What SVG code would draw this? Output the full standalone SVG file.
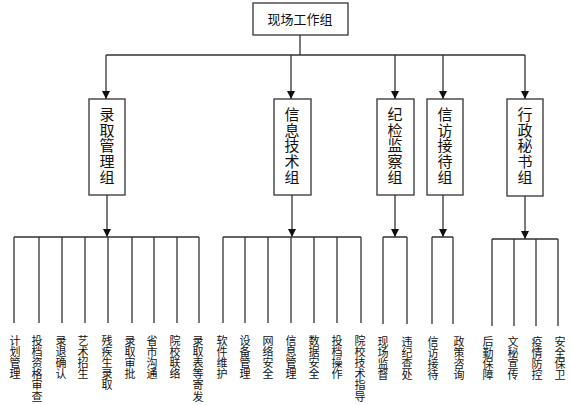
<svg xmlns="http://www.w3.org/2000/svg" width="571" height="405" viewBox="0 0 571 405">
<style>
.box{fill:#fff;stroke:#333;stroke-width:1.3}
.ln{stroke:#333;stroke-width:1.3;fill:none}
.t{font-family:"Noto Sans CJK SC",sans-serif;fill:#111}
.bt{font-size:15px;writing-mode:tb;letter-spacing:0.6px}
.lt{font-size:11px;writing-mode:tb;letter-spacing:0.2px}
</style>
<defs>
<marker id="ah" markerWidth="8" markerHeight="8" refX="8" refY="4" orient="auto" markerUnits="userSpaceOnUse">
<path d="M0,0 L8,4 L0,8 Z" fill="#111"/>
</marker>
</defs>
<rect width="571" height="405" fill="#fff"/>
<g id="root">
<rect class="box" x="253" y="3" width="95" height="32"/>
<text class="t" x="300" y="24" font-size="13" text-anchor="middle">现场工作组</text>
</g>
<g id="connectors">
<path class="ln" d="M300,35 V55 M106,55 H525"/>
<path class="ln" d="M106,55 V99" marker-end="url(#ah)"/>
<path class="ln" d="M291,55 V99" marker-end="url(#ah)"/>
<path class="ln" d="M395,55 V99" marker-end="url(#ah)"/>
<path class="ln" d="M443,55 V99" marker-end="url(#ah)"/>
<path class="ln" d="M525,55 V99" marker-end="url(#ah)"/>
<path class="ln" d="M107,195 V237" marker-end="url(#ah)"/>
<path class="ln" d="M292,195 V237" marker-end="url(#ah)"/>
<path class="ln" d="M395,195 V237" marker-end="url(#ah)"/>
<path class="ln" d="M443,195 V237" marker-end="url(#ah)"/>
<path class="ln" d="M525,196 V239" marker-end="url(#ah)"/>
<path class="ln" d="M14,237 H199 M14,237 V323 M39,237 V323 M62,237 V323 M85,237 V323 M108,237 V323 M132,237 V323 M154,237 V323 M177,237 V323 M199,237 V323"/>
<path class="ln" d="M223,237 H361 M223,237 V323 M245,237 V323 M268,237 V323 M291,237 V323 M314,237 V323 M337,237 V323 M361,237 V323"/>
<path class="ln" d="M383,237 H407 M383,237 V324 M407,237 V324"/>
<path class="ln" d="M432,237 H453 M432,237 V324 M453,237 V324"/>
<path class="ln" d="M492,239 H558 M492,239 V326 M514,239 V326 M536,239 V326 M558,239 V326"/>
</g>
<g id="n1"><rect class="box" x="89" y="99" width="36" height="96"/><text class="t bt" x="107" y="107">录取管理组</text></g>
<g id="n2"><rect class="box" x="274" y="99" width="37" height="96"/><text class="t bt" x="292" y="107">信息技术组</text></g>
<g id="n3"><rect class="box" x="377" y="99" width="37" height="96"/><text class="t bt" x="395" y="107">纪检监察组</text></g>
<g id="n4"><rect class="box" x="427" y="99" width="36" height="96"/><text class="t bt" x="445" y="107">信访接待组</text></g>
<g id="n5"><rect class="box" x="507" y="99" width="36" height="97"/><text class="t bt" x="525" y="107">行政秘书组</text></g>
<g id="leaves">
<text class="t lt" x="15" y="335">计划管理</text>
<text class="t lt" x="37" y="335">投档资格审查</text>
<text class="t lt" x="61" y="335">录退确认</text>
<text class="t lt" x="83" y="335">艺术招生</text>
<text class="t lt" x="107" y="335">残疾生录取</text>
<text class="t lt" x="130" y="335">录取审批</text>
<text class="t lt" x="152" y="335">省市沟通</text>
<text class="t lt" x="175" y="335">院校联络</text>
<text class="t lt" x="198" y="335">录取表等寄发</text>
<text class="t lt" x="222" y="335">软件维护</text>
<text class="t lt" x="245" y="335">设备管理</text>
<text class="t lt" x="268" y="335">网络安全</text>
<text class="t lt" x="291" y="335">信息管理</text>
<text class="t lt" x="314" y="335">数据安全</text>
<text class="t lt" x="337" y="335">投档操作</text>
<text class="t lt" x="360" y="335">院校技术指导</text>
<text class="t lt" x="383" y="336">现场监督</text>
<text class="t lt" x="407" y="336">违纪查处</text>
<text class="t lt" x="433" y="336">信访接待</text>
<text class="t lt" x="459" y="336">政策咨询</text>
<text class="t lt" x="488" y="336">后勤保障</text>
<text class="t lt" x="513" y="336">文秘宣传</text>
<text class="t lt" x="537" y="336">疫情防控</text>
<text class="t lt" x="560" y="336">安全保卫</text>
</g>
</svg>
